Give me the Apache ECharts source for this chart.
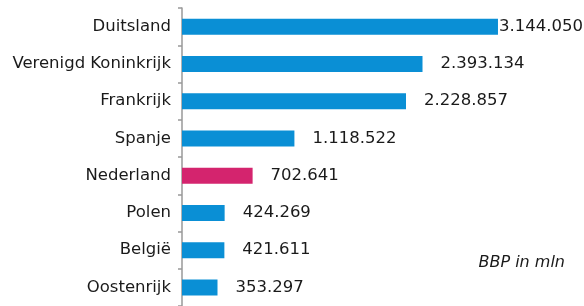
<!DOCTYPE html>
<html><head><meta charset="utf-8">
<script src="https://cdn.jsdelivr.net/npm/echarts@6/dist/echarts.min.js"></script>
<style>html,body{margin:0;padding:0;background:#fff}#c{width:584px;height:306px}</style>
</head><body><div id="c"></div>
<script>
const categories = ['Duitsland','Verenigd Koninkrijk','Frankrijk','Spanje','Nederland','Polen','België','Oostenrijk'];
const values = [3144050,2393134,2228857,1118522,702641,424269,421611,353297];
const highlight = 'Nederland';
const unitNote = 'BBP in mln';

const fmt = v => String(v).replace(/\B(?=(\d{3})+(?!\d))/g, '.');
const chart = echarts.init(document.getElementById('c'), null, {renderer:'canvas'});
const FONT = 'DejaVu Sans';
chart.setOption({
  animation:false,
  grid:{left:182, top:8, width:402, height:302, containLabel:false},
  xAxis:{type:'value', min:0, max:4000000, show:false},
  yAxis:{type:'category', inverse:true, data:categories,
    axisLine:{show:true, lineStyle:{color:'#999', width:1.5}},
    axisTick:{show:true, inside:false, length:4, lineStyle:{color:'#999', width:1.5}},
    axisLabel:{color:'#1a1a1a', fontFamily:FONT, fontSize:16.5, margin:11},
  },
  series:[{type:'bar', barWidth:16,
    data: values.map((v,i)=>({value:v,
      itemStyle:{color: categories[i]===highlight ? '#d4246e' : '#0a8fd5'},
      label:{distance: i===0 ? 1 : 18}})),
    label:{show:true, position:'right', color:'#1a1a1a', fontFamily:FONT, fontSize:16.5,
      formatter:p=>fmt(p.value)}
  }],
  graphic:[{type:'text', right:19, top:255, style:{text:unitNote, font:'italic 16px "DejaVu Sans"', fill:'#1a1a1a'}}]
});
</script></body></html>
